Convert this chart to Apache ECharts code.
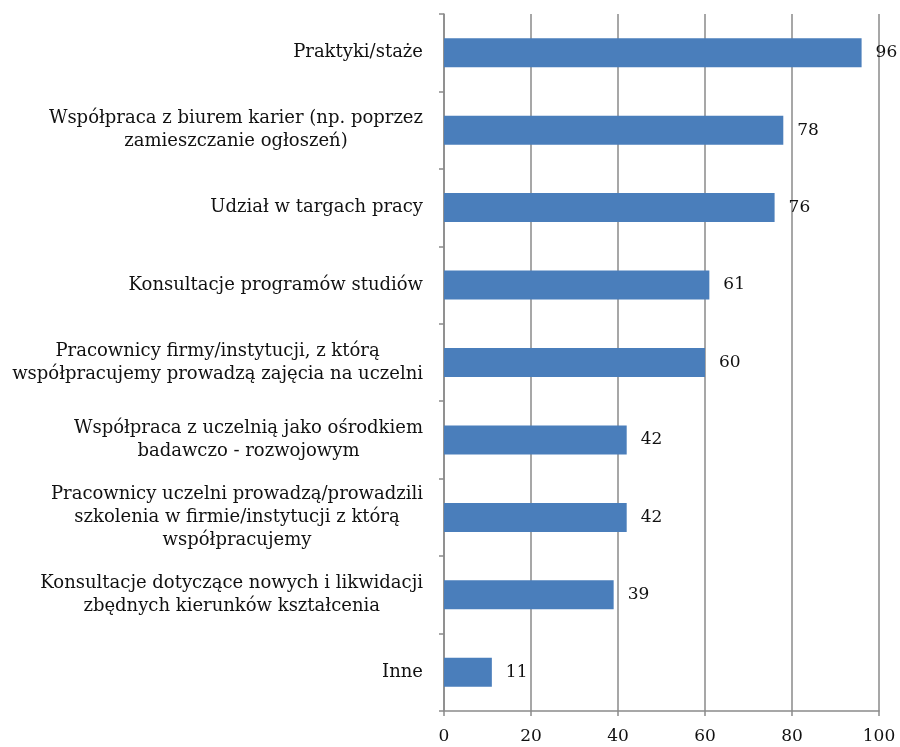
<!DOCTYPE html>
<html>
<head>
<meta charset="utf-8">
<script src="https://cdn.jsdelivr.net/npm/echarts@6/dist/echarts.min.js"></script>
<style>html,body{margin:0;padding:0;background:#fff;}#c{width:900px;height:747px;}</style>
</head>
<body>
<div id="c"></div>
<script>
const categories = [
  "Praktyki/staże",
  "Współpraca z biurem karier (np. poprzez\nzamieszczanie ogłoszeń)",
  "Udział w targach pracy",
  "Konsultacje programów studiów",
  "Pracownicy firmy/instytucji, z którą\nwspółpracujemy prowadzą zajęcia na uczelni",
  "Współpraca z uczelnią jako ośrodkiem\nbadawczo - rozwojowym",
  "Pracownicy uczelni prowadzą/prowadzili\nszkolenia w firmie/instytucji z którą\nwspółpracujemy",
  "Konsultacje dotyczące nowych i likwidacji\nzbędnych kierunków kształcenia",
  "Inne"
];
const values = [96, 78, 76, 61, 60, 42, 42, 39, 11];
const xTicks = [0, 20, 40, 60, 80, 100];

const FONT = "DejaVu Serif";
const chart = echarts.init(document.getElementById('c'));
chart.setOption({
  animation: false,
  backgroundColor: '#fff',
  grid: {left: 444, right: 21, top: 14, bottom: 36, containLabel: false},
  xAxis: {
    type: 'value', min: xTicks[0], max: xTicks[xTicks.length - 1], interval: 20,
    axisLine: {show: true, lineStyle: {color: '#8a8a8a', width: 1.5}},
    axisTick: {show: true, length: 5, lineStyle: {color: '#8a8a8a', width: 1.5}},
    splitLine: {show: true, lineStyle: {color: '#8a8a8a', width: 1.5}},
    axisLabel: {color: '#111', fontFamily: FONT, fontSize: 17, margin: 17}
  },
  yAxis: {
    type: 'category', data: categories, inverse: true,
    axisLine: {show: true, lineStyle: {color: '#8a8a8a', width: 1.5}},
    axisTick: {show: true, length: 5, alignWithLabel: false, lineStyle: {color: '#8a8a8a', width: 1.5}},
    axisLabel: {
      margin: 21, color: '#111', fontFamily: FONT, fontSize: 18, lineHeight: 23,
      formatter: function (v) { return v.split('\n').map(function (l) { return '{c|' + l + '}'; }).join('\n'); },
      rich: {c: {align: 'center', fontFamily: FONT, fontSize: 18, lineHeight: 23, color: '#111'}}
    }
  },
  series: [{
    type: 'bar', data: values, barWidth: 29,
    itemStyle: {color: '#4a7ebb'},
    label: {show: true, position: 'right', distance: 14, color: '#111', fontFamily: FONT, fontSize: 17}
  }]
});
</script>
</body>
</html>
